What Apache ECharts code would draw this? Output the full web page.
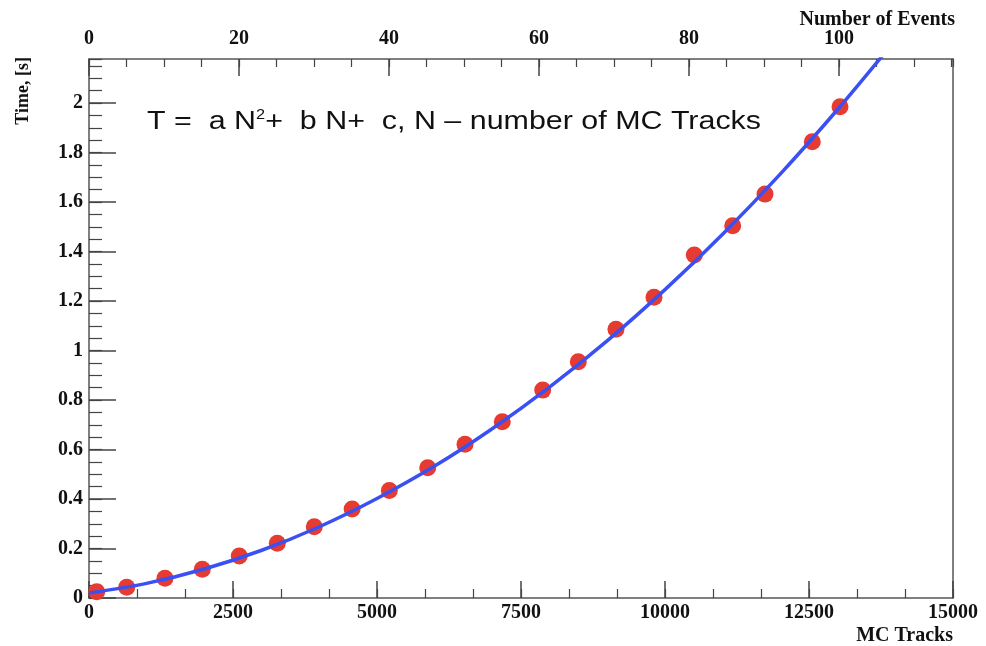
<!DOCTYPE html>
<html>
<head>
<meta charset="utf-8">
<title>Time vs MC Tracks</title>
<script src="https://cdn.jsdelivr.net/npm/echarts@6/dist/echarts.min.js"></script>
<style>
  html, body { margin: 0; padding: 0; background: #ffffff; }
  #chart { width: 986px; height: 646px; }
</style>
</head>
<body>
<div id="chart"></div>
<script>
// Measured reconstruction time per number of MC tracks
const mcTracks = [134, 655, 1319, 1967, 2609, 3269, 3911, 4568, 5214, 5880, 6528,
                  7175, 7877, 8495, 9149, 9809, 10509, 11175, 11736, 12557, 13038];
const timeSec  = [0.025, 0.043, 0.080, 0.116, 0.170, 0.221, 0.288, 0.360, 0.434, 0.526, 0.621,
                  0.712, 0.840, 0.955, 1.086, 1.215, 1.386, 1.504, 1.632, 1.844, 1.985];

// Fitted curve T = a N^2 + b N + c, sampled along the drawn line
const fitTracks = [0, 1000, 2000, 3000, 4000, 5000, 6000, 7000, 8000, 9000, 10000, 11000, 12000, 13000, 14000];
const fitTime   = [0.020, 0.059, 0.117, 0.193, 0.288, 0.402, 0.533, 0.684, 0.853, 1.040, 1.246, 1.470, 1.713, 1.975, 2.255];

// Axis ranges and tick steps
const tracksRange = [0, 15000];
const tracksStep = 2500;
const eventsRange = [0, 115.2];
const eventsStep = 20;
const timeRange = [0, 2.178];
const timeStep = 0.2;

const serif = 'Liberation Serif';
const frameColor = '#555555';
const tickColor = '#444444';

const gridBox = { left: 89, top: 59, width: 864, height: 539 };

const labelStyle = { fontFamily: serif, fontWeight: 'bold', fontSize: 20, color: '#111111' };

function majorX(pos, range, step, tickLen, margin) {
  return {
    type: 'value', gridIndex: 0, position: pos,
    min: range[0], max: range[1], interval: step,
    axisLine: { show: true, onZero: false, lineStyle: { color: frameColor, width: 1.5 } },
    axisTick: { show: true, inside: true, length: tickLen, lineStyle: { color: tickColor, width: 1.5 } },
    axisLabel: Object.assign({ show: true, margin: margin, showMaxLabel: pos === 'bottom', showMinLabel: true,
      formatter: v => (Math.abs(v / step - Math.round(v / step)) < 1e-6 ? String(Math.round(v)) : '') }, labelStyle),
    splitLine: { show: false }
  };
}

function minorX(pos, range, step, tickLen) {
  return {
    type: 'value', gridIndex: 1, position: pos,
    min: range[0], max: range[1], interval: step,
    axisLine: { show: false, onZero: false },
    axisTick: { show: true, inside: true, length: tickLen, lineStyle: { color: tickColor, width: 1.2 } },
    axisLabel: { show: false },
    splitLine: { show: false }
  };
}

const option = {
  backgroundColor: '#ffffff',
  animation: false,
  grid: [
    Object.assign({}, gridBox),
    Object.assign({}, gridBox)
  ],
  xAxis: [
    majorX('bottom', tracksRange, tracksStep, 17, 5),
    majorX('top', eventsRange, eventsStep, 17, 10),
    minorX('bottom', tracksRange, tracksStep / 3, 9),
    minorX('top', eventsRange, eventsStep / 4, 8)
  ],
  yAxis: [
    {
      type: 'value', gridIndex: 0, position: 'left',
      min: timeRange[0], max: timeRange[1], interval: timeStep,
      axisLine: { show: true, onZero: false, lineStyle: { color: frameColor, width: 1.5 } },
      axisTick: { show: true, inside: true, length: 27, lineStyle: { color: tickColor, width: 1.5 } },
      axisLabel: Object.assign({ margin: 6, showMaxLabel: false,
        formatter: v => String(Math.round(v * 10) / 10) }, labelStyle),
      splitLine: { show: false }
    },
    {
      type: 'value', gridIndex: 0, position: 'right',
      min: timeRange[0], max: timeRange[1],
      axisLine: { show: true, onZero: false, lineStyle: { color: frameColor, width: 1.5 } },
      axisTick: { show: false },
      axisLabel: { show: false },
      splitLine: { show: false }
    },
    {
      type: 'value', gridIndex: 1, position: 'left',
      min: timeRange[0], max: timeRange[1], interval: timeStep / 4,
      axisLine: { show: false, onZero: false },
      axisTick: { show: true, inside: true, length: 13, lineStyle: { color: tickColor, width: 1.2 } },
      axisLabel: { show: false },
      splitLine: { show: false }
    }
  ],
  series: [
    {
      name: 'Measured',
      type: 'scatter',
      xAxisIndex: 0, yAxisIndex: 0,
      symbol: 'circle',
      symbolSize: 17,
      itemStyle: { color: '#e63b30', opacity: 1 },
      data: mcTracks.map((n, i) => [n, timeSec[i]]),
      z: 2
    },
    {
      name: 'Fit',
      type: 'line',
      xAxisIndex: 0, yAxisIndex: 0,
      showSymbol: false,
      smooth: 0.3,
      clip: true,
      lineStyle: { color: '#3a50f2', width: 3.5 },
      data: fitTracks.map((n, i) => [n, fitTime[i]]),
      z: 3
    }
  ],
  graphic: [
    {
      type: 'text', x: 955, y: 20,
      style: { text: 'Number of Events', font: 'bold 20px "Liberation Serif"', fill: '#111',
               textAlign: 'right', textVerticalAlign: 'middle' }
    },
    {
      type: 'text', x: 953, y: 636,
      style: { text: 'MC Tracks', font: 'bold 20px "Liberation Serif"', fill: '#111',
               textAlign: 'right', textVerticalAlign: 'middle' }
    },
    {
      type: 'text', x: 23, y: 57, rotation: Math.PI / 2,
      style: { text: 'Time, [s]', font: 'bold 18px "Liberation Serif"', fill: '#111',
               textAlign: 'right', textVerticalAlign: 'middle' }
    },
    {
      type: 'text', x: 147, y: 122, scaleX: 1.17,
      style: {
        text: '{t|T =  a N}{s|2}{t|+  b N+  c, N \u2013 number of MC Tracks}',
        textAlign: 'left', textVerticalAlign: 'middle',
        rich: {
          t: { fontFamily: 'Liberation Sans', fontSize: 26, lineHeight: 28, fill: '#111' },
          s: { fontFamily: 'Liberation Sans', fontSize: 14, lineHeight: 15, verticalAlign: 'top', fill: '#111' }
        }
      }
    }
  ]
};

const chart = echarts.init(document.getElementById('chart'), null, { renderer: 'canvas' });
chart.setOption(option);
</script>
</body>
</html>
